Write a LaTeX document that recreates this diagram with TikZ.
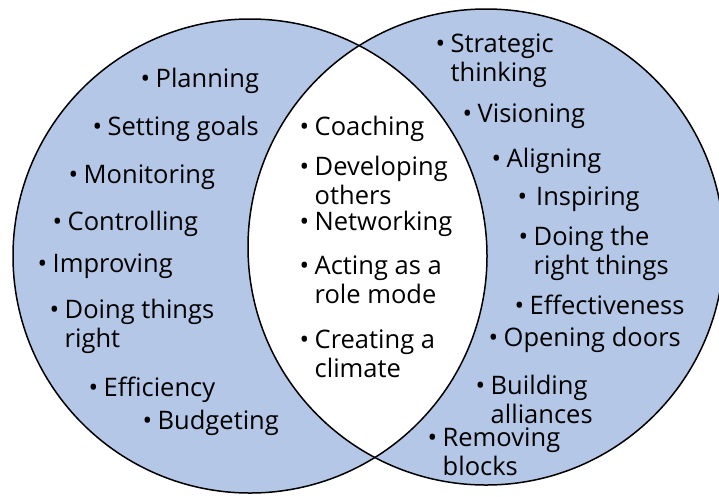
\documentclass[tikz,border=0pt]{standalone}
\usepackage{fontspec}
\setmainfont{Open Sans}
\definecolor{vennblue}{RGB}{180,199,230}
% bullet with hanging indent for wrapped lines
\newcommand{\itm}[1]{\textbullet\hspace{5.5pt}\begin{tabular}[t]{@{}l@{}}#1\end{tabular}}

\begin{document}
\begin{tikzpicture}[x=1pt, y=-1pt, every node/.style={font=\fontsize{25.5}{29}\selectfont, inner sep=0pt, anchor=base west}, ring/.style={line width=1.5pt}]
	\clip (0,0) rectangle (719,496);
	% the two sets, white overlap
	\fill[vennblue] (250,256) circle[radius=237pt];
	\fill[vennblue] (486,247) circle[radius=238pt];
	\begin{scope}
		\clip (250,256) circle[radius=237pt];
		\fill[white] (486,247) circle[radius=238pt];
	\end{scope}
	\draw[ring] (250,256) circle[radius=237pt];
	\draw[ring] (486,247) circle[radius=238pt];
	% left set
	\node (plan) at (140.4,87) {\itm{Planning}};
	\node (goals) at (92.4,135) {\itm{Setting goals}};
	\node (monit) at (68.4,183) {\itm{Monitoring}};
	\node (contr) at (52.4,230) {\itm{Controlling}};
	\node (impr) at (37.4,272) {\itm{Improving}};
	\node (dright) at (49.4,318) {\itm{Doing things\\right}};
	\node (effic) at (88.4,396) {\itm{Efficiency}};
	\node (budg) at (142.4,429) {\itm{Budgeting}};
	% overlap
	\node (coach) at (299.4,135) {\itm{Coaching}};
	\node (devel) at (299.4,175) {\itm{Developing\\others}};
	\node (netw) at (299.4,230) {\itm{Networking}};
	\node (role) at (299.4,274) {\itm{Acting as a\\role mode}};
	\node (clim) at (299.4,348) {\itm{Creating a\\climate}};
	% right set
	\node (strat) at (435.4,52) {\itm{Strategic\\thinking}};
	\node (vision) at (462.4,122) {\itm{Visioning}};
	\node (align) at (491.4,167) {\itm{Aligning}};
	\node (insp) at (517.4,205) {\itm{\hspace{3.5pt}Inspiring}};
	\node (rthings) at (518.4,245) {\itm{Doing the\\right things}};
	\node (effect) at (514.4,314) {\itm{Effectiveness}};
	\node (doors) at (488.4,346) {\itm{Opening doors}};
	\node (allian) at (475.4,394) {\itm{Building\\alliances}};
	\node (blocks) at (427.4,446) {\itm{Removing\\blocks}};
\end{tikzpicture}
\end{document}
